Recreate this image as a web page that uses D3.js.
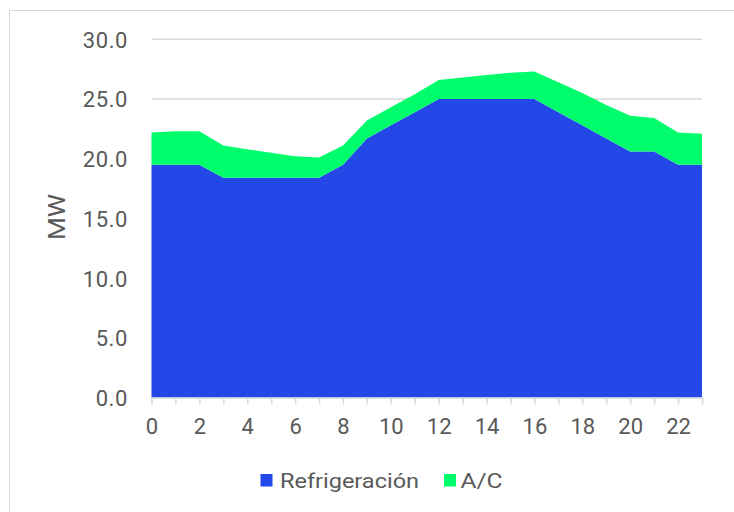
<!DOCTYPE html>
<html>
<head>
<meta charset="utf-8">
<script src="https://cdn.jsdelivr.net/npm/d3@7"></script>
<style>
  body { margin: 0; background: #fff; }
  svg text { font-family: Roboto, "Noto Sans", sans-serif; fill: #595959; }
</style>
</head>
<body>
<svg id="chart" width="734" height="512"></svg>
<script>
// hours of the day
var hours = [0,1,2,3,4,5,6,7,8,9,10,11,12,13,14,15,16,17,18,19,20,21,22,23];
// MW per series
var refrigeracion = [19.5,19.5,19.5,18.4,18.4,18.4,18.4,18.4,19.5,21.7,22.8,23.9,25.0,25.0,25.0,25.0,25.0,23.9,22.8,21.7,20.6,20.6,19.5,19.5];
var ac = [2.7,2.8,2.8,2.7,2.4,2.1,1.8,1.7,1.6,1.5,1.5,1.5,1.6,1.8,2.0,2.2,2.3,2.5,2.7,2.8,3.0,2.8,2.7,2.6];
var seriesNames = ['Refrigeración','A/C'];
var colors = ['#2448e8','#00fe6c'];
var yTicks = [0,5,10,15,20,25,30];
var xLabels = [0,2,4,6,8,10,12,14,16,18,20,22];

var svg = d3.select('#chart');

// outer frame
svg.append('rect')
  .attr('x',9.5).attr('y',10.5)
  .attr('width',800).attr('height',600)
  .attr('fill','none').attr('stroke','#d9d9d9');

var x = d3.scaleLinear().domain([0,23]).range([151.5,702]);
var y = d3.scaleLinear().domain([0,30]).range([397.5,39.3]);

// gridlines
svg.append('g')
  .selectAll('line')
  .data(yTicks)
  .join('line')
  .attr('x1',x(0)).attr('x2',x(23))
  .attr('y1',d=>y(d)).attr('y2',d=>y(d))
  .attr('stroke','#d9d9d9').attr('stroke-width',1.5);

// stacked areas
var table = hours.map((h,i)=>({hour:h,'Refrigeración':refrigeracion[i],'A/C':ac[i]}));
var stack = d3.stack().keys(seriesNames)(table);
var area = d3.area()
  .x(d=>x(d.data.hour))
  .y0(d=>y(d[0]))
  .y1(d=>y(d[1]));

svg.append('g')
  .selectAll('path')
  .data(stack)
  .join('path')
  .attr('d',area)
  .attr('fill',(d,i)=>colors[i]);

// y axis labels
var yAxis = d3.axisLeft(y).tickValues(yTicks).tickSize(0).tickPadding(0).tickFormat(d3.format('.1f'));
var gy = svg.append('g').attr('transform','translate(128,0)').call(yAxis);
gy.select('.domain').remove();
gy.selectAll('text').attr('font-size',22).attr('letter-spacing','0.6px').attr('dy','0.36em');

// x axis
var xAxis = d3.axisBottom(x).tickValues(hours).tickSize(7).tickFormat(d=>xLabels.indexOf(d)>=0 ? d : '');
var gx = svg.append('g').attr('transform','translate(0,'+y(0)+')').call(xAxis);
gx.select('.domain').attr('stroke','#d9d9d9').attr('stroke-width',1.5);
gx.selectAll('.tick line').attr('stroke','#d9d9d9').attr('stroke-width',1.5);
gx.selectAll('text').attr('font-size',22).attr('y',29).attr('dy','0.35em');

// y title
svg.append('text')
  .attr('transform','translate(65,217) rotate(-90)')
  .attr('text-anchor','middle')
  .attr('font-size',24)
  .attr('textLength',46)
  .attr('lengthAdjust','spacingAndGlyphs')
  .text('MW');

// legend
var legendX = [260.5,444];
var legendW = [139,42];
var lg = svg.append('g')
  .selectAll('g')
  .data(seriesNames)
  .join('g')
  .attr('transform',(d,i)=>'translate('+legendX[i]+',474)');
lg.append('rect').attr('width',12).attr('height',12.5).attr('fill',(d,i)=>colors[i]);
lg.append('text')
  .attr('x',(d,i)=>i==0 ? 19.5 : 16.5)
  .attr('y',13.7)
  .attr('font-size',21)
  .attr('textLength',(d,i)=>legendW[i])
  .attr('lengthAdjust','spacingAndGlyphs')
  .text(d=>d);
</script>
</body>
</html>
